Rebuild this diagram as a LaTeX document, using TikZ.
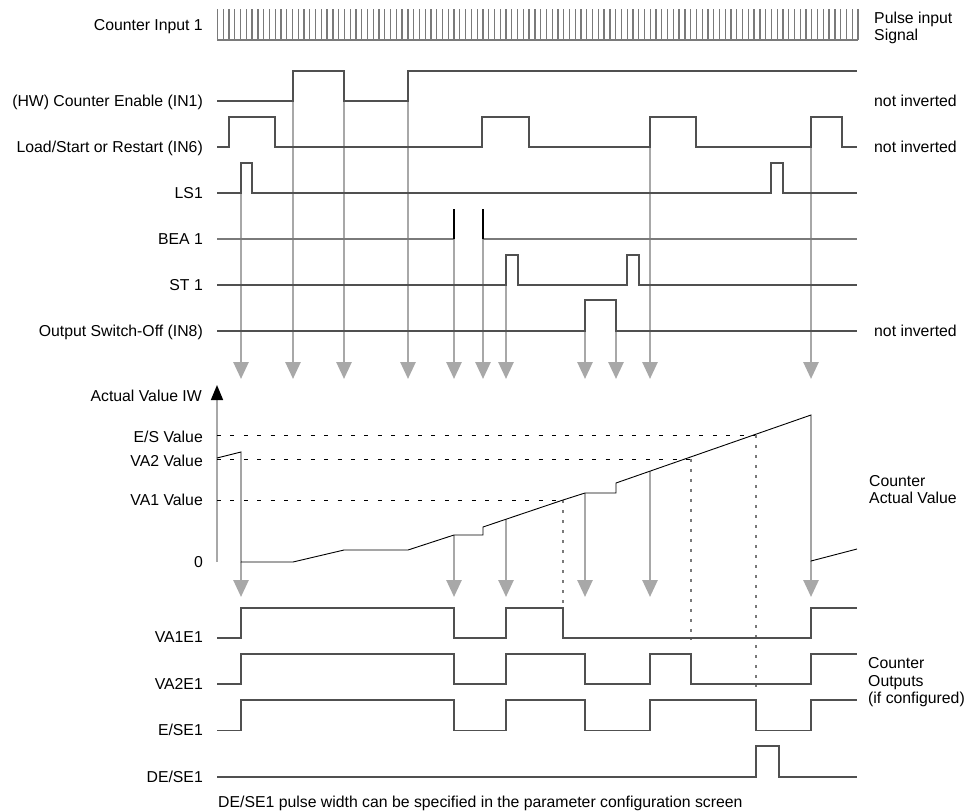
\documentclass[tikz,border=0pt]{standalone}
\usepackage{fontspec}
\setmainfont{Liberation Sans}
\usetikzlibrary{arrows.meta}
\definecolor{sigc}{HTML}{505050}
\definecolor{evc}{HTML}{A8A8A8}
\definecolor{trc}{HTML}{7A7A7A}
\begin{document}
\begin{tikzpicture}[x=1pt,y=-1pt,
  sig/.style={draw=sigc, line width=1.1pt},
  faint/.style={draw=trc, line width=1.1pt},
  ev/.style={draw=evc, line width=2.7pt, -{Triangle[width=15pt,length=17pt]}},
  ptrain/.style={draw=trc, line width=1.3pt},
  txt/.style={inner sep=0pt, text height=11.4pt, text depth=0pt, font=\fontsize{15.8}{18}\selectfont},
  lbl/.style={txt, anchor=east},
  rlbl/.style={txt, anchor=west},
  refline/.style={draw=black, line width=0.8pt, dash pattern=on 4pt off 9.4pt},
  vdot/.style={draw=trc, line width=1.3pt, dash pattern=on 3pt off 7pt}
]
\useasboundingbox (0,0) rectangle (968,811);

% ---------------- labels left ----------------
\node[lbl] (lci)  at (203,25)  {Counter Input 1};
\node[lbl] (lin1) at (203,101) {(HW) Counter Enable (IN1)};
\node[lbl] (lin6) at (203,147) {Load/Start or Restart (IN6)};
\node[lbl] (lls)  at (203,193) {LS1};
\node[lbl] (lbea) at (203,239) {BEA 1};
\node[lbl] (lst)  at (203,285) {ST 1};
\node[lbl] (lin8) at (203,331) {Output Switch-Off (IN8)};
\node[lbl] (lav)  at (202,396) {Actual Value IW};
\node[lbl] (les)  at (203,437) {E/S Value};
\node[lbl] (lva2) at (203,461) {VA2 Value};
\node[lbl] (lva1) at (203,500) {VA1 Value};
\node[lbl] (lzero) at (203,562) {0};
\node[lbl] (lo1)  at (203,637) {VA1E1};
\node[lbl] (lo2)  at (203,684) {VA2E1};
\node[lbl] (lo3)  at (203,730) {E/SE1};
\node[lbl] (lo4)  at (203,777) {DE/SE1};

% ---------------- labels right ----------------
\node[rlbl] (rpi1) at (874,18) {Pulse input};
\node[rlbl] (rpi2) at (874,35) {Signal};
\node[rlbl] (rni1) at (874,101) {not inverted};
\node[rlbl] (rni2) at (874,147) {not inverted};
\node[rlbl] (rni3) at (874,331) {not inverted};
\node[rlbl] (rca1) at (869,481) {Counter};
\node[rlbl] (rca2) at (869,498) {Actual Value};
\node[rlbl] (rco1) at (868,663) {Counter};
\node[rlbl] (rco2) at (868,681) {Outputs};
\node[rlbl] (rco3) at (868,698) {(if configured)};
\node[rlbl] (note) at (218,802) {DE/SE1 pulse width can be specified in the parameter configuration screen};

% ---------------- event arrows (upper) ----------------
\foreach \x/\y in {241/193, 293/101, 344/101, 408/101, 454/239, 483/239, 506/285, 585/331, 616/331, 650/147, 811/147}{
  \coordinate (ua\x) at (\x,\y);
  \coordinate (ut\x) at (\x,379);
  \draw[ev] (ua\x) -- (ut\x);
}
% ---------------- event arrows (lower) ----------------
\foreach \x/\y in {241/562, 454/535, 506/519.3, 585/493, 650/471.2, 811/561}{
  \coordinate (la\x) at (\x,\y);
  \coordinate (lt\x) at (\x,597);
  \draw[ev] (la\x) -- (lt\x);
}

% ---------------- pulse train ----------------
\foreach \i in {0,...,111}{
  \draw[ptrain] ({217.5+\i*5.77},9) -- ++(0,31);
}
\draw[ptrain] (217,40) -- (858,40);

% ---------------- input signals ----------------
\draw[sig] (217,101) -| (293,71) -| (344,101) -| (408,71) -- (857,71);
\draw[sig] (217,147) -| (229,117) -| (275,147) -| (482,117) -| (529,147) -| (650,117) -| (696,147) -| (811,117) -| (842,147) -- (857,147);
\draw[sig] (217,193) -| (241,163) -| (252,193) -| (771,163) -| (783,193) -- (857,193);
\draw[faint] (217,239) -- (454,239);
\draw[faint] (483,239) -- (857,239);
\draw[draw=black, line width=1.1pt] (454,239) -- (454,209);
\draw[draw=black, line width=1.1pt] (483,209) -- (483,239);
\draw[sig] (217,285) -| (506,255) -| (518,285) -| (627,255) -| (639,285) -- (857,285);
\draw[sig] (217,331) -| (585,300) -| (616,331) -- (857,331);

% ---------------- value axis ----------------
\coordinate (ax0) at (217,562);
\coordinate (ax1) at (217,385);
\draw[draw=evc, line width=1.6pt, -{Triangle[width=12pt,length=15pt,black]}] (ax0) -- (ax1);

% reference levels
\draw[refline] (217,435) -- (756,435);
\draw[refline] (217,459) -- (691,459);
\draw[refline] (217,500) -- (563,500);

% vertical dotted
\draw[vdot] (563,500) -- (563,608);
\draw[vdot] (691,459) -- (691,640);
\draw[vdot] (756,435) -- (756,687);

% counter value
\draw[draw=black, line width=0.9pt] (217,458) -- (241,452) -- (241,562) -- (293,562) -- (344,550) -- (408,550) -- (454,535) -- (483,535) -- (483,527) -- (563,500) -- (585,493) -- (616,493) -- (616,483) -- (811,415) -- (811,561) -- (857,549);

% ---------------- outputs ----------------
\draw[sig] (217,638) -| (241,608) -| (454,638) -| (506,608) -| (563,638) -| (811,608) -- (857,608);
\draw[sig] (217,684) -| (241,654) -| (454,684) -| (506,654) -| (585,684) -| (650,654) -| (691,684) -| (811,654) -- (857,654);
\draw[sig] (217,730.5) -| (241,700) -| (454,730.5) -| (506,700) -| (585,730.5) -| (650,700) -| (756,730.5) -| (811,700) -- (857,700);
\draw[sig] (217,777) -| (756,746) -| (779,777) -- (857,777);
\end{tikzpicture}
\end{document}
